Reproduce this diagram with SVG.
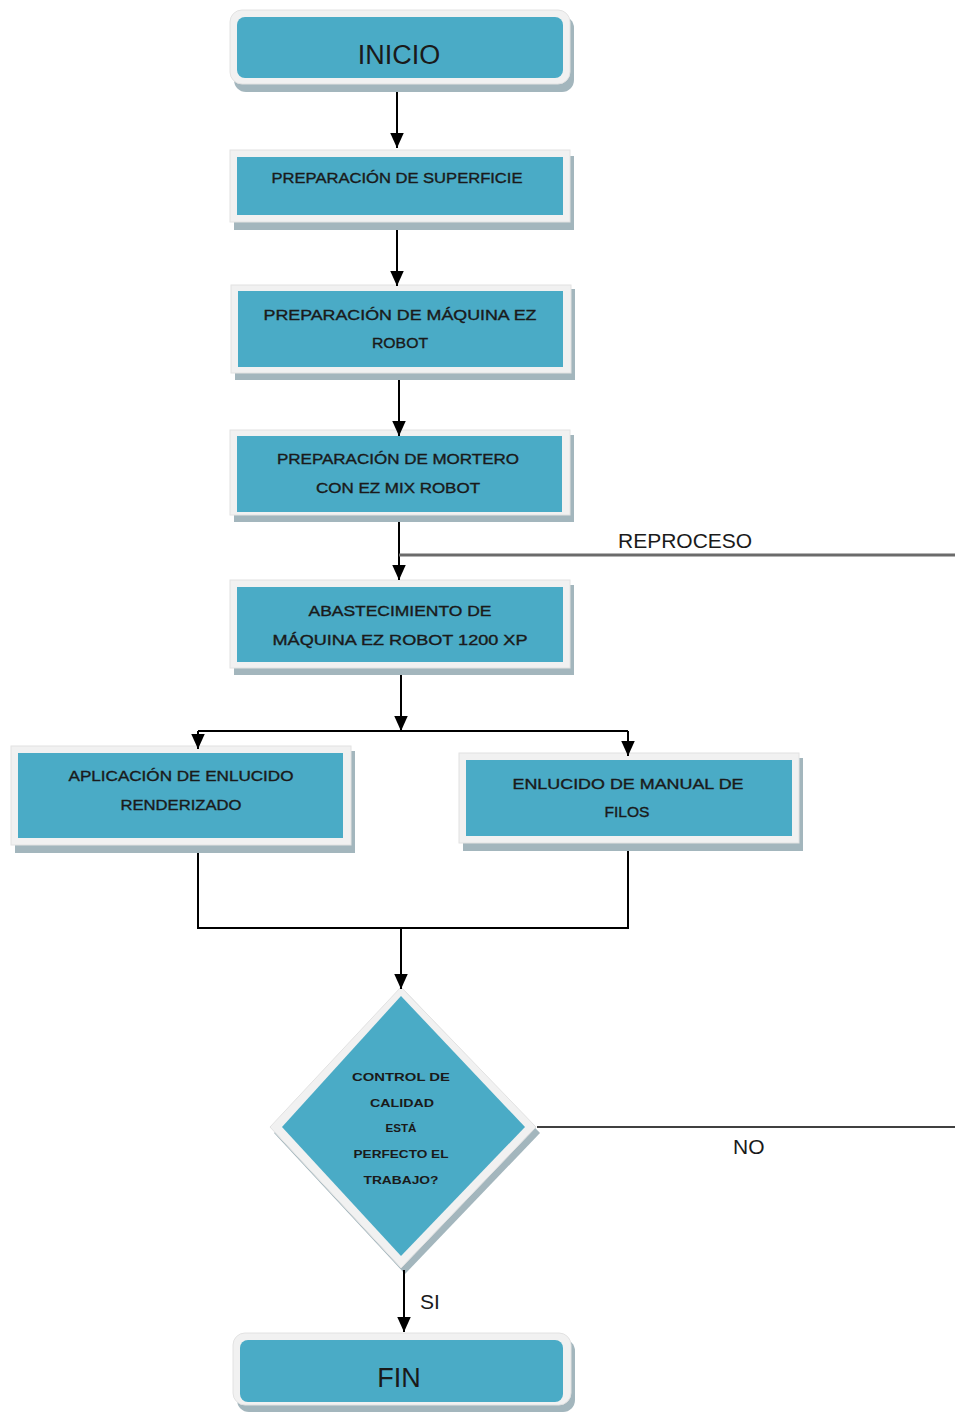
<svg xmlns="http://www.w3.org/2000/svg" width="955" height="1412" viewBox="0 0 955 1412">
<defs>
<style>
.frame{fill:#f1f1f1;stroke:#e2e2e2;stroke-width:1}
.shadow{fill:#a3b6bd}
.inner{fill:#4aabc6}
.lbl{font-family:"Liberation Sans",Arial,sans-serif;font-size:14px;fill:#1a1a1a;stroke:#1a1a1a;stroke-width:0.35;text-anchor:middle}
.big{font-family:"Liberation Sans",Arial,sans-serif;font-size:27px;fill:#1a1a1a;text-anchor:middle}
.dl{font-family:"Liberation Sans",Arial,sans-serif;font-size:11px;font-weight:bold;fill:#1a1a1a;text-anchor:middle}
.edge{fill:none;stroke:#000;stroke-width:2}
.elbl{font-family:"Liberation Sans",Arial,sans-serif;font-size:21px;fill:#1a1a1a}
</style>
<marker id="arr" viewBox="0 0 10 10" refX="10" refY="5" markerWidth="15" markerHeight="15" markerUnits="userSpaceOnUse" orient="auto">
<path d="M0,0.5 L10,5 L0,9.5 z" fill="#000"/>
</marker>
</defs>
<rect width="955" height="1412" fill="#fff"/>

<g id="inicio">
<rect class="shadow" x="234" y="16" width="340" height="76" rx="12"/>
<rect class="frame" x="230" y="10" width="340" height="74" rx="12"/>
<rect class="inner" x="237" y="17" width="326" height="61" rx="8"/>
<text class="big" x="399" y="64">INICIO</text>
</g>

<g id="superficie">
<rect class="shadow" x="234" y="156" width="340" height="74"/>
<rect class="frame" x="230" y="150" width="340" height="72"/>
<rect class="inner" x="237" y="157" width="326" height="58"/>
<text class="lbl" x="397" y="183" textLength="251" lengthAdjust="spacingAndGlyphs">PREPARACIÓN  DE SUPERFICIE</text>
</g>

<g id="maquina">
<rect class="shadow" x="235" y="289" width="340" height="91"/>
<rect class="frame" x="231" y="285" width="340" height="88"/>
<rect class="inner" x="238" y="291" width="325" height="76"/>
<text class="lbl" x="400" y="320" textLength="273" lengthAdjust="spacingAndGlyphs">PREPARACIÓN  DE MÁQUINA  EZ</text>
<text class="lbl" x="400" y="348" textLength="56" lengthAdjust="spacingAndGlyphs">ROBOT</text>
</g>

<g id="mortero">
<rect class="shadow" x="234" y="435" width="340" height="87"/>
<rect class="frame" x="230" y="430" width="340" height="85"/>
<rect class="inner" x="237" y="436" width="325" height="76"/>
<text class="lbl" x="398" y="464" textLength="242" lengthAdjust="spacingAndGlyphs">PREPARACIÓN  DE MORTERO</text>
<text class="lbl" x="398" y="493" textLength="164" lengthAdjust="spacingAndGlyphs">CON EZ MIX ROBOT</text>
</g>

<g id="abastecimiento">
<rect class="shadow" x="234" y="585" width="340" height="90"/>
<rect class="frame" x="230" y="580" width="340" height="88"/>
<rect class="inner" x="237" y="587" width="326" height="75"/>
<text class="lbl" x="400" y="616" textLength="183" lengthAdjust="spacingAndGlyphs">ABASTECIMIENTO DE</text>
<text class="lbl" x="400" y="645" textLength="255" lengthAdjust="spacingAndGlyphs">MÁQUINA EZ ROBOT  1200 XP</text>
</g>

<g id="aplicacion">
<rect class="shadow" x="15" y="751" width="340" height="102"/>
<rect class="frame" x="11" y="746" width="340" height="99"/>
<rect class="inner" x="18" y="753" width="325" height="85"/>
<text class="lbl" x="181" y="781" textLength="225" lengthAdjust="spacingAndGlyphs">APLICACIÓN  DE  ENLUCIDO</text>
<text class="lbl" x="181" y="810" textLength="121" lengthAdjust="spacingAndGlyphs">RENDERIZADO</text>
</g>

<g id="manual">
<rect class="shadow" x="463" y="758" width="340" height="93"/>
<rect class="frame" x="459" y="753" width="340" height="90"/>
<rect class="inner" x="466" y="760" width="326" height="76"/>
<text class="lbl" x="628" y="789" textLength="231" lengthAdjust="spacingAndGlyphs">ENLUCIDO  DE MANUAL DE</text>
<text class="lbl" x="627" y="817" textLength="45" lengthAdjust="spacingAndGlyphs">FILOS</text>
</g>

<g id="control">
<polygon class="shadow" points="405,991 274,1133 405,1274 540,1133"/>
<polygon class="frame" points="401,987 270,1127 401,1268 536,1127"/>
<polygon class="inner" points="401,996 282,1127 401,1256 525,1127"/>
<text class="dl" x="401" y="1081" textLength="98" lengthAdjust="spacingAndGlyphs">CONTROL DE</text>
<text class="dl" x="402" y="1107" textLength="64" lengthAdjust="spacingAndGlyphs">CALIDAD</text>
<text class="dl" x="401" y="1132" textLength="31" lengthAdjust="spacingAndGlyphs">ESTÁ</text>
<text class="dl" x="401" y="1158" textLength="95" lengthAdjust="spacingAndGlyphs">PERFECTO EL</text>
<text class="dl" x="401" y="1184" textLength="75" lengthAdjust="spacingAndGlyphs">TRABAJO?</text>
</g>

<g id="fin">
<rect class="shadow" x="237" y="1339" width="338" height="73" rx="12"/>
<rect class="frame" x="233" y="1333" width="338" height="72" rx="12"/>
<rect class="inner" x="240" y="1340" width="323" height="62" rx="8"/>
<text class="big" x="399" y="1387">FIN</text>
</g>

<g id="connectors">
<path class="edge" d="M397,92 V148" marker-end="url(#arr)"/>
<path class="edge" d="M397,230 V286" marker-end="url(#arr)"/>
<path class="edge" d="M399,380 V436" marker-end="url(#arr)"/>
<path class="edge" d="M399,522 V580" marker-end="url(#arr)"/>
<path d="M399,555 H955" fill="none" stroke="#6b6b6b" stroke-width="3"/>
<path class="edge" d="M401,675 V731" marker-end="url(#arr)"/>
<path class="edge" d="M198,731 H628"/>
<path class="edge" d="M198,731 V749" marker-end="url(#arr)"/>
<path class="edge" d="M628,731 V756" marker-end="url(#arr)"/>
<path class="edge" d="M198,853 V928 H628 V851"/>
<path class="edge" d="M401,928 V989" marker-end="url(#arr)"/>
<path d="M537,1127 H955" fill="none" stroke="#000" stroke-width="1.5"/>
<path class="edge" d="M404,1270 V1332" marker-end="url(#arr)"/>
<text class="elbl" x="618" y="548">REPROCESO</text>
<text class="elbl" x="733" y="1154">NO</text>
<text class="elbl" x="420" y="1309">SI</text>
</g>
</svg>
